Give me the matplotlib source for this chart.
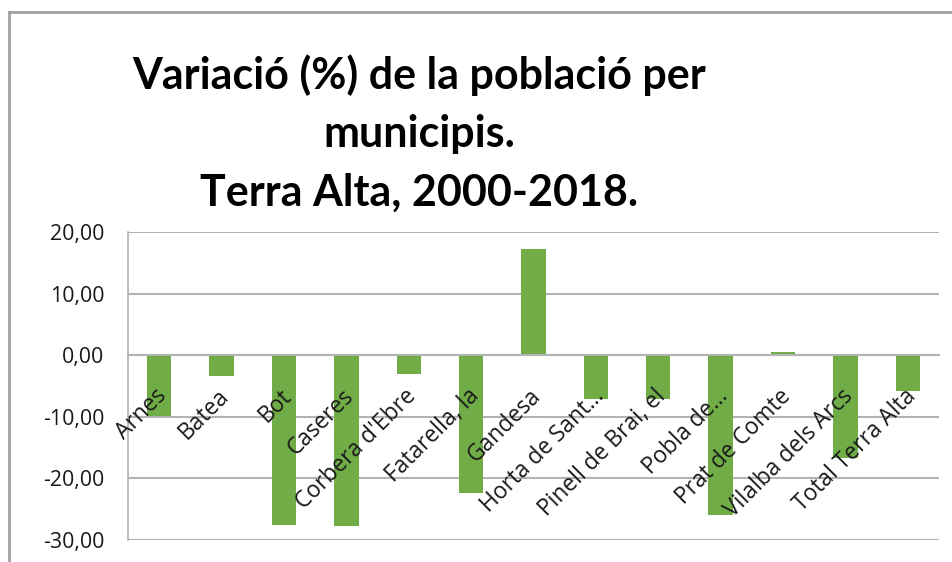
import numpy as np
import matplotlib
matplotlib.use("Agg")
import matplotlib.pyplot as plt
from matplotlib.lines import Line2D
from matplotlib.transforms import offset_copy

municipis = ["Arnes", "Batea", "Bot", "Caseres", "Corbera d'Ebre", "Fatarella, la",
             "Gandesa", "Horta de Sant...", "Pinell de Brai, el", "Pobla de...",
             "Prat de Comte", "Vilalba dels Arcs", "Total Terra Alta"]
variacio = [-9.9, -3.3, -27.6, -27.7, -3.1, -22.4, 17.3, -7.1, -7.1, -25.9, 0.5, -16.7, -5.8]
yticks = [-30, -20, -10, 0, 10, 20]

bar_color = "#70AD47"
grid_color = "#b3b3b3"
lab_font = ["Open Sans", "DejaVu Sans"]

fig = plt.figure(figsize=(9.53, 5.62), dpi=100)
ax = fig.add_axes([128/953, 22/562, 811/953, 308/562])

x = np.arange(len(municipis))
ax.bar(x, variacio, width=0.39, color=bar_color, zorder=3)

ax.set_xlim(-0.5, len(municipis) - 0.5)
ax.set_ylim(-30, 20)
ax.set_yticks(yticks)
ax.set_yticklabels([("%.2f" % v).replace(".", ",") for v in yticks],
                   family=lab_font, fontsize=15.4, color="#1a1a1a")
ax.tick_params(axis="y", length=0, pad=17)
ax.yaxis.grid(True, color=grid_color, linewidth=1.5, zorder=0)

ax.spines["bottom"].set_position(("data", 0))
ax.spines["bottom"].set_color(grid_color)
ax.spines["bottom"].set_linewidth(1.5)
ax.spines["bottom"].set_zorder(4)
ax.spines["left"].set_color(grid_color)
ax.spines["left"].set_linewidth(1.2)
ax.spines["top"].set_visible(False)
ax.spines["right"].set_visible(False)

# category labels drawn on top of the bars, just under the zero line
ax.set_xticks(x)
ax.set_xticklabels([])
ax.tick_params(axis="x", length=0)
lab_tr = offset_copy(ax.transData, fig=fig, x=-3, y=-21, units="points")
for i, name in enumerate(municipis):
    ax.text(i, 0, name, transform=lab_tr, rotation=45, ha="right", va="top",
            rotation_mode="anchor", family=lab_font, fontsize=16.4,
            color="#1a1a1a", zorder=5, clip_on=False)

fig.text(419/953, 1 - 54/562,
         "Variació (%) de la població per\nmunicipis.\nTerra Alta, 2000-2018.",
         ha="center", va="top", fontsize=31, fontweight="bold",
         family=["Lato", "DejaVu Sans"], linespacing=1.56)

# outer chart frame
fig.add_artist(Line2D([9/953, 9/953], [0, 1 - 12/562], transform=fig.transFigure,
                      color="#a0a0a0", linewidth=2))
fig.add_artist(Line2D([9/953, 1], [1 - 12/562, 1 - 12/562], transform=fig.transFigure,
                      color="#a0a0a0", linewidth=2))

fig.savefig("out.png", dpi=100)
